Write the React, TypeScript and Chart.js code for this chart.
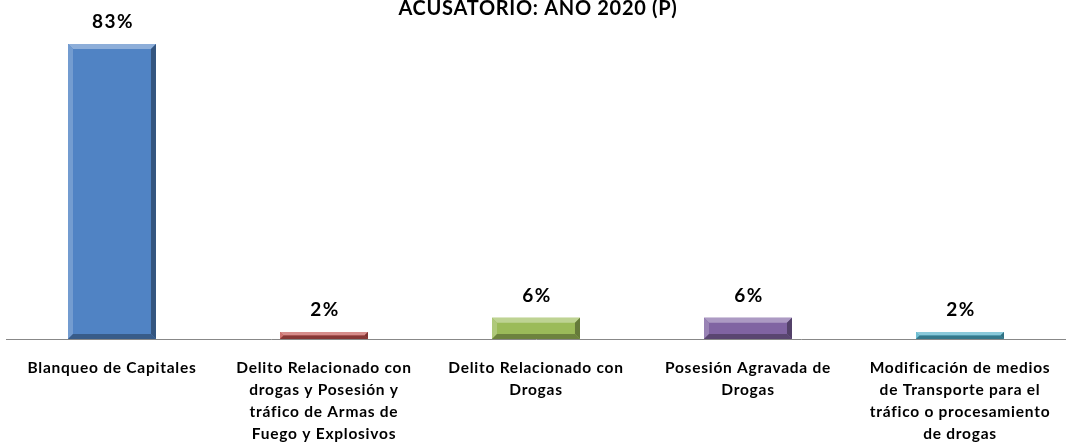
import React, { useEffect, useRef } from "react";
import { Chart, registerables } from "chart.js";

Chart.register(...registerables);

const categories: string[][] = [
  ["Blanqueo de Capitales"],
  ["Delito Relacionado con", "drogas y Posesión y", "tráfico de Armas de", "Fuego y Explosivos"],
  ["Delito Relacionado con", "Drogas"],
  ["Posesión Agravada de", "Drogas"],
  ["Modificación de medios", "de Transporte para el", "tráfico o procesamiento", "de drogas"],
];
const values: number[] = [83, 2, 6, 6, 2];
const barColors: string[] = ["#5083C4", "#C0504D", "#9BBB59", "#8064A2", "#4BACC6"];
const titleText = "ACUSATORIO: AÑO 2020 (P)";

const FONT = "Lato, 'Open Sans', sans-serif";

function shade(hex: string, amt: number): string {
  const n = parseInt(hex.slice(1), 16);
  const r = (n >> 16) & 255, g = (n >> 8) & 255, b = n & 255;
  const f = (c: number) => Math.max(0, Math.min(255, Math.round(amt >= 0 ? c + (255 - c) * amt : c * (1 + amt))));
  return `rgb(${f(r)},${f(g)},${f(b)})`;
}

const spacingPlugin = {
  id: "spacing",
  beforeInit(chart: any) {
    chart.ctx.letterSpacing = "0.75px";
  },
  beforeUpdate(chart: any) {
    chart.ctx.letterSpacing = "0.75px";
  },
  beforeDraw(chart: any) {
    chart.ctx.letterSpacing = "0.75px";
  },
};

const bevelPlugin = {
  id: "bevel",
  afterDatasetsDraw(chart: any) {
    const { ctx } = chart;
    const meta = chart.getDatasetMeta(0);
    meta.data.forEach((bar: any, i: number) => {
      const { x, y, base, width } = bar.getProps(["x", "y", "base", "width"], true);
      const l = x - width / 2, r = x + width / 2, t = y, b = base;
      const h = b - t;
      const bv = Math.min(5, h / 2, width / 2);
      const c = barColors[i];
      ctx.save();
      ctx.fillStyle = shade(c, 0.35);
      ctx.beginPath(); ctx.moveTo(l, t); ctx.lineTo(r, t); ctx.lineTo(r - bv, t + bv); ctx.lineTo(l + bv, t + bv); ctx.closePath(); ctx.fill();
      ctx.fillStyle = shade(c, 0.2);
      ctx.beginPath(); ctx.moveTo(l, t); ctx.lineTo(l + bv, t + bv); ctx.lineTo(l + bv, b - bv); ctx.lineTo(l, b); ctx.closePath(); ctx.fill();
      ctx.fillStyle = shade(c, -0.35);
      ctx.beginPath(); ctx.moveTo(r, t); ctx.lineTo(r, b); ctx.lineTo(r - bv, b - bv); ctx.lineTo(r - bv, t + bv); ctx.closePath(); ctx.fill();
      ctx.fillStyle = shade(c, -0.3);
      ctx.beginPath(); ctx.moveTo(l, b); ctx.lineTo(r, b); ctx.lineTo(r - bv, b - bv); ctx.lineTo(l + bv, b - bv); ctx.closePath(); ctx.fill();
      ctx.restore();
    });
  },
};

const labelsPlugin = {
  id: "valueLabels",
  afterDatasetsDraw(chart: any) {
    const { ctx } = chart;
    const meta = chart.getDatasetMeta(0);
    ctx.save();
    ctx.font = `bold 19px ${FONT}`;
    ctx.letterSpacing = "1.5px";
    ctx.fillStyle = "#000";
    ctx.textAlign = "center";
    ctx.textBaseline = "middle";
    meta.data.forEach((bar: any, i: number) => {
      ctx.fillText(`${values[i]}%`, bar.x + 1, bar.y - 22);
    });
    ctx.restore();
  },
};

const titlePlugin = {
  id: "clippedTitle",
  afterDraw(chart: any) {
    const { ctx } = chart;
    ctx.save();
    ctx.font = `bold 20px ${FONT}`;
    ctx.letterSpacing = "0.7px";
    ctx.fillStyle = "#000";
    ctx.textAlign = "center";
    ctx.textBaseline = "alphabetic";
    ctx.fillText(titleText, 538, 15);
    ctx.restore();
  },
};

export default function App() {
  const ref = useRef<HTMLCanvasElement | null>(null);
  useEffect(() => {
    if (!ref.current) return;
    const chart = new Chart(ref.current, {
      type: "bar",
      data: {
        labels: categories,
        datasets: [
          {
            data: values,
            backgroundColor: barColors,
            borderWidth: 0,
            categoryPercentage: 1,
            barPercentage: 0.415,
          },
        ],
      },
      options: {
        animation: false,
        responsive: true,
        maintainAspectRatio: false,
        layout: { padding: { top: 19, left: 6, right: -6, bottom: 2 } },
        plugins: { legend: { display: false }, title: { display: false }, tooltip: { enabled: false } },
        scales: {
          x: {
            afterFit(scale: any) {
              scale.paddingLeft = 0;
              scale.paddingRight = 0;
            },
            grid: { display: false, drawTicks: false },
            border: { display: true, color: "#888", width: 1 },
            ticks: {
              color: "#000",
              padding: 18,
              maxRotation: 0,
              autoSkip: false,
              font: { family: FONT, size: 15.5, weight: "bold", lineHeight: "22px" },
            },
          },
          y: {
            display: false,
            min: 0,
            max: 90,
          },
        },
      },
      plugins: [spacingPlugin, bevelPlugin, labelsPlugin, titlePlugin],
    });
    return () => chart.destroy();
  }, []);
  return (
    <div style={{ position: "fixed", left: 0, top: 0, width: 1066, height: 465, background: "#fff" }}>
      <canvas ref={ref} />
    </div>
  );
}
